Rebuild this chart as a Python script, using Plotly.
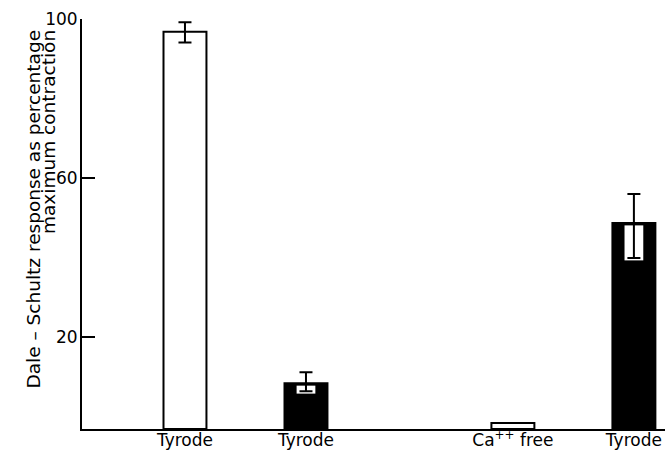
import plotly.graph_objects as go

# ---- data (in y-axis units) ----
categories = ["Tyrode", "Tyrode", "Ca<sup>++</sup> free", "Tyrode"]
values = [96.8, 8.4, -1.6, 48.7]
err_plus = [2.4, 2.8, None, 7.3]
err_minus = [2.7, 2.0, None, 8.8]
fill_kind = ["open", "solid", "open", "solid"]
y_ticks = [20, 60, 100]

# ---- layout / style ----
x_pos = [1.0, 2.0, 3.71, 4.71]
Y_MIN = -3.1
Y_MAX = 100
BAR_W = 0.355
INNER_W = 0.155
PAD = 0.6
FONT = "DejaVu Sans"

colors = ["white" if k == "open" else "black" for k in fill_kind]

fig = go.Figure()

# main bars, drawn from the axis baseline
fig.add_trace(go.Bar(
    x=x_pos,
    y=[v - Y_MIN for v in values],
    base=[Y_MIN] * len(values),
    width=BAR_W,
    marker=dict(color=colors, line=dict(color="black", width=2)),
    hoverinfo="skip",
    showlegend=False,
))

# white windows inside solid bars where the lower error arm shows
win_x, win_base, win_h = [], [], []
for xp, v, em, k in zip(x_pos, values, err_minus, fill_kind):
    if k == "solid" and em is not None:
        lo = v - em - PAD
        hi = v - PAD
        win_x.append(xp)
        win_base.append(lo)
        win_h.append(hi - lo)
fig.add_trace(go.Bar(
    x=win_x, y=win_h, base=win_base, width=INNER_W,
    marker=dict(color="white", line=dict(width=0)),
    hoverinfo="skip", showlegend=False,
))

# error bars
ex = [xp for xp, e in zip(x_pos, err_plus) if e is not None]
ey = [v for v, e in zip(values, err_plus) if e is not None]
ep = [e for e in err_plus if e is not None]
em_ = [e for e in err_minus if e is not None]
fig.add_trace(go.Scatter(
    x=ex, y=ey, mode="markers",
    marker=dict(size=1, color="rgba(0,0,0,0)"),
    error_y=dict(type="data", symmetric=False, array=ep, arrayminus=em_,
                 color="black", thickness=2, width=6.5),
    hoverinfo="skip", showlegend=False,
))

fig.update_layout(
    width=665, height=454,
    margin=dict(l=82, r=0, t=19, b=25),
    paper_bgcolor="white", plot_bgcolor="white",
    barmode="overlay",
    font=dict(family=FONT, color="black"),
    xaxis=dict(
        range=[0.149, 4.967], showgrid=False, zeroline=False,
        showline=True, linecolor="black", linewidth=2,
        tickmode="array", tickvals=x_pos, ticktext=categories,
        ticks="", ticklabelstandoff=-5,
        tickfont=dict(size=17, family=FONT, color="black"),
        automargin=False, fixedrange=True,
    ),
    yaxis=dict(
        range=[Y_MIN, Y_MAX], showgrid=False, zeroline=False,
        showline=True, linecolor="black", linewidth=2,
        tickmode="array", tickvals=y_ticks, ticktext=[str(t) for t in y_ticks],
        ticks="inside", ticklen=13, tickwidth=2, tickcolor="black",
        ticklabelstandoff=-1,
        tickfont=dict(size=17, family=FONT, color="black"),
        automargin=False, fixedrange=True,
    ),
    annotations=[
        dict(text="Dale \u2013 Schultz response as percentage",
             textangle=-90, xref="paper", yref="paper",
             x=(33 - 82) / 583, y=(429 - 28) / 410,
             xanchor="center", yanchor="top", showarrow=False,
             font=dict(size=18.5, family=FONT, color="black")),
        dict(text="maximum contraction",
             textangle=-90, xref="paper", yref="paper",
             x=(48 - 82) / 583, y=(429 - 28) / 410,
             xanchor="center", yanchor="top", showarrow=False,
             font=dict(size=18.5, family=FONT, color="black")),
    ],
)

fig.write_html("out.html",
               config={"displayModeBar": False},
               post_script="document.body.style.margin='0';"
                           "document.body.style.padding='0';")
